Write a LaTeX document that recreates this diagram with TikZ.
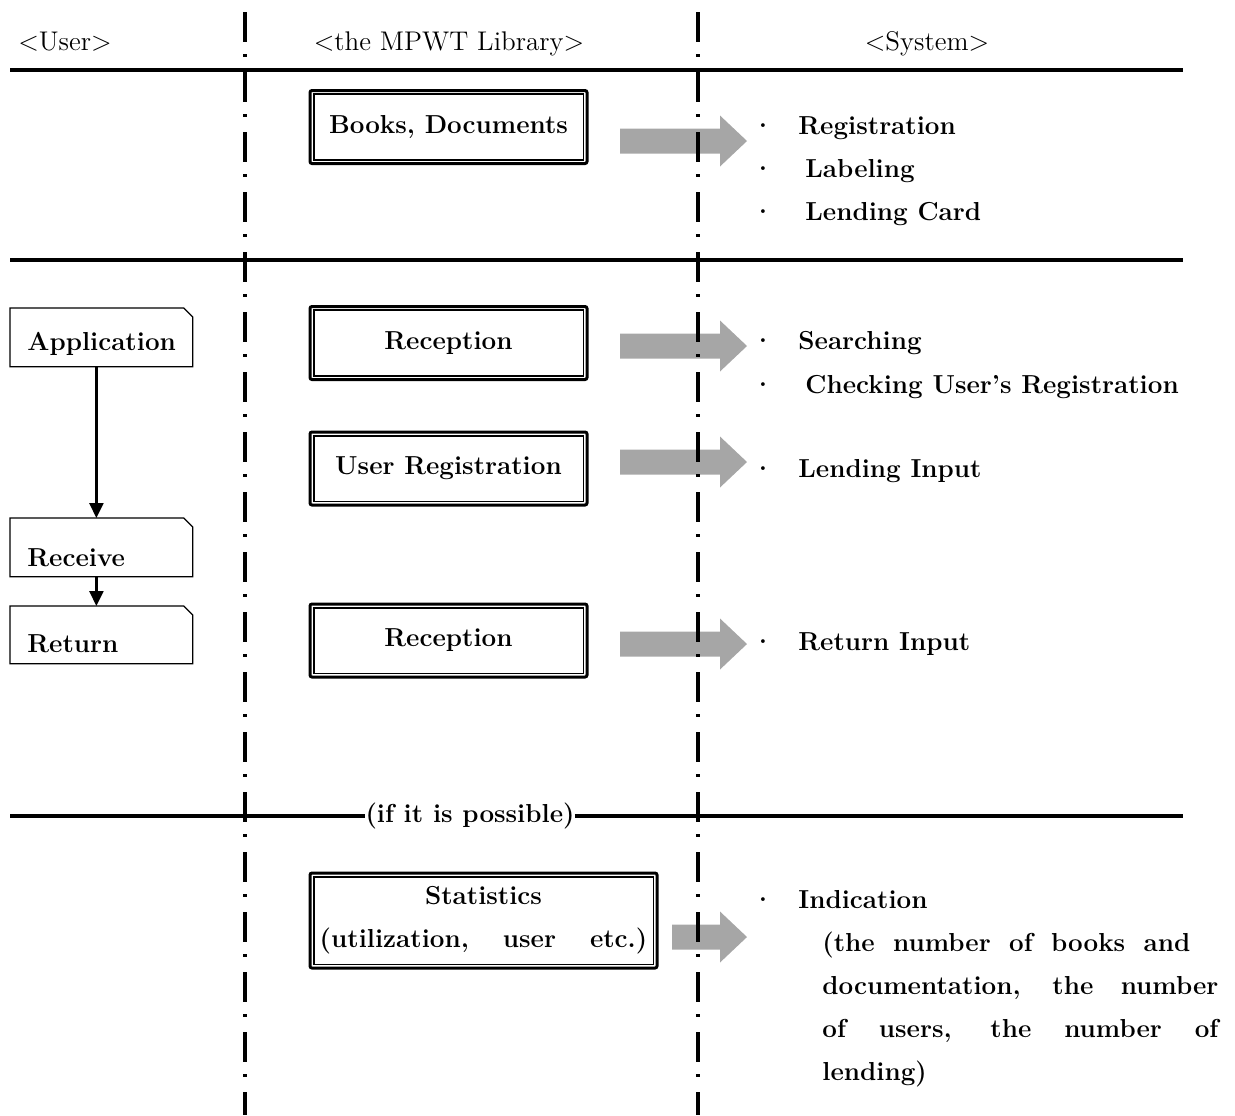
\documentclass[tikz,border=0pt]{standalone}
\usepackage{tikz}
\usetikzlibrary{arrows.meta}
\definecolor{arrowgray}{RGB}{166,166,166}
\newcommand{\bodyfont}{\fontsize{13}{21.5}\selectfont\bfseries}
\newcommand{\headfont}{\fontsize{13.5}{16}\selectfont}
\newcommand{\dotitem}{\llap{\textperiodcentered\hspace{12pt}}}
\tikzstyle{libbox}=[draw,line width=1.5pt,rounded corners=1pt,minimum width=138.5pt,minimum height=36.5pt,inner sep=0pt,font=\bodyfont,align=center]
\tikzstyle{userbox}=[inner xsep=8.5pt,inner ysep=0pt,text width=74pt,align=left,font=\bodyfont]
\tikzstyle{item}=[anchor=base west,inner sep=0pt,font=\bodyfont]
\tikzstyle{head}=[anchor=base,inner sep=0pt,font=\headfont]
\tikzstyle{sepline}=[line width=2.25pt]
\tikzstyle{lane}=[line width=1.75pt,dash pattern=on 15pt off 6pt on 1.5pt off 7.5pt]
\tikzstyle{flow}=[line width=1.2pt,-{Triangle[width=7pt,length=7.5pt]}]

\begin{document}
\begin{tikzpicture}[x=0.5pt,y=-0.5pt]
  \useasboundingbox (0,0) rectangle (1235,1115);
  % headings
  \node[head] (huser) at (65,50) {\textless User\textgreater};
  \node[head] (hlib) at (449,50) {\textless the MPWT Library\textgreater};
  \node[head] (hsys) at (927,50) {\textless System\textgreater};
  % separators
  \coordinate (s1w) at (10,70);  \coordinate (s1e) at (1183,70);
  \coordinate (s2w) at (10,260); \coordinate (s2e) at (1183,260);
  \coordinate (s3w) at (10,816); \coordinate (s3e) at (1183,816);
  \draw[sepline] (s1w) -- (s1e);
  \draw[sepline] (s2w) -- (s2e);
  \node[inner sep=0pt,font=\bodyfont] (maybe) at (470,816) {(if it is possible)};
  \draw[sepline] (s3w) -- (maybe.west);
  \draw[sepline] (maybe.east) -- (s3e);
  % library side
  \foreach \place/\name/\txt in {{(448.5,127)/books/{Books, Documents}},
                                 {(448.5,343)/recep1/Reception},
                                 {(448.5,468.5)/userreg/User Registration},
                                 {(448.5,640.5)/recep2/Reception}}
    \node[libbox] (\name) at \place {\txt};
  \node[libbox,minimum width=173.5pt,minimum height=47.5pt]
    (stats) at (483.5,920.5) {Statistics\\(utilization,\hspace{17pt}user\hspace{17pt}etc.)};
  \foreach \n in {books,recep1,userreg,recep2,stats}
    \draw[line width=0.8pt] ([shift={(2.6pt,-2.6pt)}]\n.north west) rectangle ([shift={(-2.6pt,2.6pt)}]\n.south east);
  % user side
  \node[userbox,text height=21pt,text depth=8pt,anchor=north west] (app) at (10,308) {\mbox{Application}};
  \node[userbox,text height=24pt,text depth=5pt,anchor=north west] (recv) at (10,518) {Receive};
  \node[userbox,text height=23pt,text depth=5.5pt,anchor=north west] (ret) at (10,606) {Return};
  \foreach \n in {app,recv,ret}
    \draw[line width=0.6pt] (\n.south west) -- (\n.north west) -- ([xshift=-4.5pt]\n.north east)
      -- ([yshift=-4.5pt]\n.north east) -- (\n.south east) -- cycle;
  \draw[flow] ([xshift=-2.5pt]app.south) -- ([xshift=-2.5pt]recv.north);
  \draw[flow] ([xshift=-2.5pt]recv.south) -- ([xshift=-2.5pt]ret.north);
  % big gray arrows
  \foreach \sx/\cy in {620/141,620/346,620/462,620/644,672/937}
    \fill[arrowgray] (\sx,\cy-12.5) -- (720,\cy-12.5) -- (720,\cy-25.5) -- (747,\cy)
      -- (720,\cy+25.5) -- (720,\cy+12.5) -- (\sx,\cy+12.5) -- cycle;
  % system side
  \node[item] (reg) at (798,134) {\dotitem Registration};
  \node[item] (lab) at (798,177) {\dotitem\hspace{3.5pt}Labeling};
  \node[item] (card) at (798,220) {\dotitem\hspace{3.5pt}Lending Card};
  \node[item] (srch) at (798,349) {\dotitem Searching};
  \node[item] (chk) at (798,393) {\dotitem\hspace{3.5pt}Checking User's Registration};
  \node[item] (lendin) at (798,477) {\dotitem Lending Input};
  \node[item] (retin) at (798,650) {\dotitem Return Input};
  \node[item] (ind) at (798,908) {\dotitem Indication};
  \node[item,align=left] (detail) at (822,1080)
    {\makebox[184pt][s]{(the number of books and}\\
     \makebox[198pt][s]{documentation, the number}\\
     \makebox[198pt][s]{of users, the number of}\\
     lending)};
  % lanes
  \coordinate (v1t) at (245,12); \coordinate (v1b) at (245,1115);
  \coordinate (v2t) at (698,12); \coordinate (v2b) at (698,1115);
  \draw[lane] (v1t) -- (v1b);
  \draw[lane] (v2t) -- (v2b);
\end{tikzpicture}
\end{document}
